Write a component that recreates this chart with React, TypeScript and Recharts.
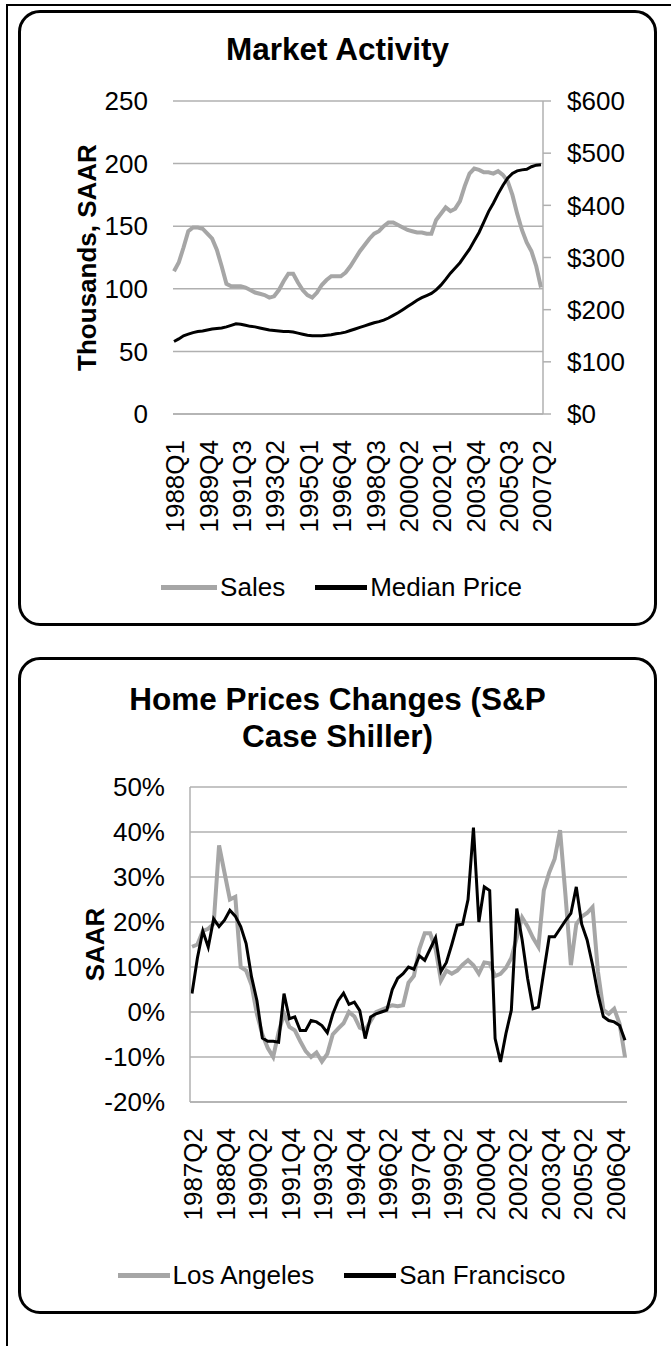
import React from "react";
import { LineChart, Line, XAxis, YAxis, CartesianGrid } from "recharts";

const FONT = '"Liberation Sans", Arial, sans-serif';
const GRID = "#b0b0b0";
const LIGHT = "#a6a6a6";

// quarter labels, e.g. 1988Q1
const quarters = (year: number, q: number, count: number) => {
  const out: string[] = [];
  for (let i = 0; i < count; i++) {
    const n = (q - 1) + i;
    out.push(`${year + Math.floor(n / 4)}Q${(n % 4) + 1}`);
  }
  return out;
};

// ---- Market Activity (1988Q1 - 2007Q2)
const activityQuarters = quarters(1988, 1, 78);
const sales = [
  114, 121, 133, 146, 149, 149, 148, 144, 140, 131,
  118, 104, 102, 102, 102, 101, 99, 97, 96, 95,
  93, 94, 99, 106, 112, 112, 105, 99, 95, 93,
  97, 103, 107, 110, 110, 110, 113, 118, 124, 130,
  135, 140, 144, 146, 150, 153, 153, 151, 149, 147,
  146, 145, 145, 144, 144, 155, 160, 165, 162, 164,
  170, 182, 192, 196, 195, 193, 193, 192, 194, 191,
  186, 175, 160, 147, 137, 130, 118, 101,
];
const medianPrice = [
  139, 144, 150, 153, 156, 158, 159, 161, 163, 164,
  165, 167, 170, 173, 172, 170, 168, 167, 165, 163,
  161, 160, 159, 158, 158, 157, 155, 153, 151, 150,
  150, 150, 151, 152, 154, 155, 157, 160, 163, 166,
  169, 172, 175, 177, 180, 184, 189, 194, 200, 206,
  212, 218, 223, 227, 231, 238, 247, 258, 270, 280,
  290, 303, 316, 332, 348, 368, 388, 404, 422, 438,
  452, 461, 466, 468, 469, 474, 477, 478,
];
const salesTicks = [0, 50, 100, 150, 200, 250];
const priceTicks = [0, 100, 200, 300, 400, 500, 600];

// ---- Home price changes (1987Q2 - 2007Q2), % SAAR
const priceQuarters = quarters(1987, 2, 81);
const losAngeles = [
  14.5, 15, 18, 18.5, 19.6, 37, 31, 25, 25.6, 10,
  9.2, 6, -0.5, -5, -8, -10, -4.5, -0.4, -3.3, -4.1,
  -6.5, -8.7, -10, -9, -11, -9.3, -5, -3.7, -2.5, 0,
  -1, -3.5, -4, -2, 0, 0.5, 1, 1.5, 1.3, 1.5,
  6.5, 8, 14, 17.5, 17.5, 14, 7, 9.2, 8.5, 9.2,
  10.5, 11.5, 10.4, 8.5, 11, 10.8, 8, 8.5, 9.8, 12,
  16.5, 21, 19, 16.5, 14.5, 27, 31, 34, 40.4, 26,
  10.4, 19.5, 21.2, 22, 23.3, 9, 0.5, -0.4, 0.7, -2.6,
  -10,
];
const sanFrancisco = [
  4.1, 12, 18, 14.4, 20.7, 19, 20.4, 22.6, 21.3, 19,
  15.2, 7.8, 2.5, -5.8, -6.5, -6.5, -6.7, 4.1, -1.5, -1.1,
  -4.1, -4.1, -1.9, -2.2, -3, -4.6, -0.5, 2.5, 4.2, 1.7,
  2.2, 0.3, -5.9, -1.1, -0.4, 0, 0.4, 5, 7.5, 8.5,
  10, 9.5, 12.5, 11.5, 14, 16.5, 9, 11, 15, 19.3,
  19.5, 25, 41, 20, 27.8, 27, -5.9, -11.1, -4.8, 0.4,
  23, 16, 7.5, 0.7, 1.1, 9, 16.7, 16.7, 18.5, 20.3,
  21.9, 27.8, 19.5, 16, 10.5, 4, -1, -1.9, -2.2, -3,
  -6.3,
];
const pctTicks = [-20, -10, 0, 10, 20, 30, 40, 50];

const activityData = activityQuarters.map((q, i) => ({
  q, sales: sales[i], price: medianPrice[i],
}));
const changeData = priceQuarters.map((q, i) => ({
  q, la: losAngeles[i], sf: sanFrancisco[i],
}));

const tickFont = { fontSize: 26, fill: "#000", fontFamily: FONT };

const QuarterTick = ({ x, y, payload }: any) => (
  <text
    x={x}
    y={y}
    transform={`rotate(-90 ${x} ${y})`}
    textAnchor="end"
    dy="0.4em"
    fontSize={26}
    fontFamily={FONT}
    fill="#000"
  >
    {payload.value}
  </text>
);

const AxisTitle = ({ viewBox, text, x }: any) => {
  const cy = viewBox.y + viewBox.height / 2;
  return (
    <text
      x={x}
      y={cy}
      transform={`rotate(-90 ${x} ${cy})`}
      textAnchor="middle"
      fontSize={26}
      fontWeight="bold"
      fontFamily={FONT}
      fill="#000"
    >
      {text}
    </text>
  );
};

const Box = ({ top, height }: { top: number; height: number }) => (
  <div
    style={{
      position: "absolute", left: 18, top, width: 639, height,
      border: "3px solid #000", borderRadius: 22, boxSizing: "border-box",
    }}
  />
);

const Title = ({ top, lines }: { top: number; lines: string[] }) => (
  <div
    style={{
      position: "absolute", left: 18, top, width: 639, textAlign: "center",
      fontFamily: FONT, fontWeight: "bold", fontSize: 31.5, lineHeight: "37px",
    }}
  >
    {lines.map((l) => <div key={l}>{l}</div>)}
  </div>
);

const LegendRow = ({ top, items }: { top: number; items: { name: string; color: string; w: number }[] }) => (
  <div
    style={{
      position: "absolute", left: 22, top, width: 639, height: 30,
      display: "flex", justifyContent: "center", alignItems: "center",
      fontFamily: FONT, fontSize: 26, gap: 30,
    }}
  >
    {items.map((it) => (
      <div key={it.name} style={{ display: "flex", alignItems: "center", gap: 3 }}>
        <div style={{ width: it.w, height: 5, background: it.color }} />
        <span>{it.name}</span>
      </div>
    ))}
  </div>
);

export default function App() {
  return (
    <div style={{ position: "absolute", left: 0, top: 0, width: 671, height: 1346, background: "#fff" }}>
      <div style={{ position: "absolute", left: 6, top: 4, width: 665, height: 2, background: "#000" }} />
      <div style={{ position: "absolute", left: 6, top: 4, width: 2, height: 1342, background: "#000" }} />

      <Box top={10} height={616} />
      <Title top={31} lines={["Market Activity"]} />
      <div style={{ position: "absolute", left: 18, top: 10 }}>
        <LineChart width={639} height={615} data={activityData} margin={{ top: 91, right: 0, bottom: 61, left: 0 }}>
          <CartesianGrid yAxisId="left" vertical={false} stroke={GRID} strokeWidth={1.5} />
          <XAxis
            dataKey="q"
            interval={6}
            height={150}
            padding={{ left: 1, right: 2 }}
            axisLine={{ stroke: GRID, strokeWidth: 1.5 }}
            tickLine={false}
            tickSize={0}
            tickMargin={26}
            tick={<QuarterTick />}
          />
          <YAxis
            yAxisId="left"
            width={155}
            domain={[0, 250]}
            ticks={salesTicks}
            axisLine={false}
            tickLine={false}
            tickSize={0}
            tickMargin={25}
            tick={tickFont}
            label={<AxisTitle text="Thousands, SAAR" x={60} />}
          />
          <YAxis
            yAxisId="right"
            orientation="right"
            width={114}
            domain={[0, 600]}
            ticks={priceTicks}
            axisLine={{ stroke: GRID, strokeWidth: 1.5 }}
            tickLine={{ stroke: GRID, strokeWidth: 1.5 }}
            tickSize={8}
            tickMargin={16}
            tick={tickFont}
            tickFormatter={(v) => `$${v}`}
          />
          <Line yAxisId="left" type="linear" dataKey="sales" stroke={LIGHT} strokeWidth={4} dot={false} isAnimationActive={false} />
          <Line yAxisId="right" type="linear" dataKey="price" stroke="#000" strokeWidth={3} dot={false} isAnimationActive={false} />
        </LineChart>
      </div>
      <LegendRow
        top={572}
        items={[
          { name: "Sales", color: LIGHT, w: 56 },
          { name: "Median Price", color: "#000", w: 52 },
        ]}
      />

      <Box top={657} height={657} />
      <Title top={681} lines={["Home Prices Changes (S&P", "Case Shiller)"]} />
      <div style={{ position: "absolute", left: 18, top: 657 }}>
        <LineChart width={639} height={656} data={changeData} margin={{ top: 130, right: 30, bottom: 61, left: 0 }}>
          <CartesianGrid vertical={false} stroke={GRID} strokeWidth={1.5} />
          <XAxis
            dataKey="q"
            interval={5}
            height={150}
            padding={{ left: 2, right: 2 }}
            axisLine={{ stroke: GRID, strokeWidth: 1.5 }}
            tickLine={false}
            tickSize={0}
            tickMargin={26}
            tick={<QuarterTick />}
          />
          <YAxis
            width={172}
            domain={[-20, 50]}
            ticks={pctTicks}
            axisLine={{ stroke: GRID, strokeWidth: 1.5 }}
            tickLine={false}
            tickSize={0}
            tickMargin={25}
            tick={tickFont}
            tickFormatter={(v) => `${v}%`}
            label={<AxisTitle text="SAAR" x={60} />}
          />
          <Line type="linear" dataKey="la" stroke={LIGHT} strokeWidth={4} dot={false} isAnimationActive={false} />
          <Line type="linear" dataKey="sf" stroke="#000" strokeWidth={3} dot={false} isAnimationActive={false} />
        </LineChart>
      </div>
      <LegendRow
        top={1260}
        items={[
          { name: "Los Angeles", color: LIGHT, w: 52 },
          { name: "San Francisco", color: "#000", w: 52 },
        ]}
      />
    </div>
  );
}
